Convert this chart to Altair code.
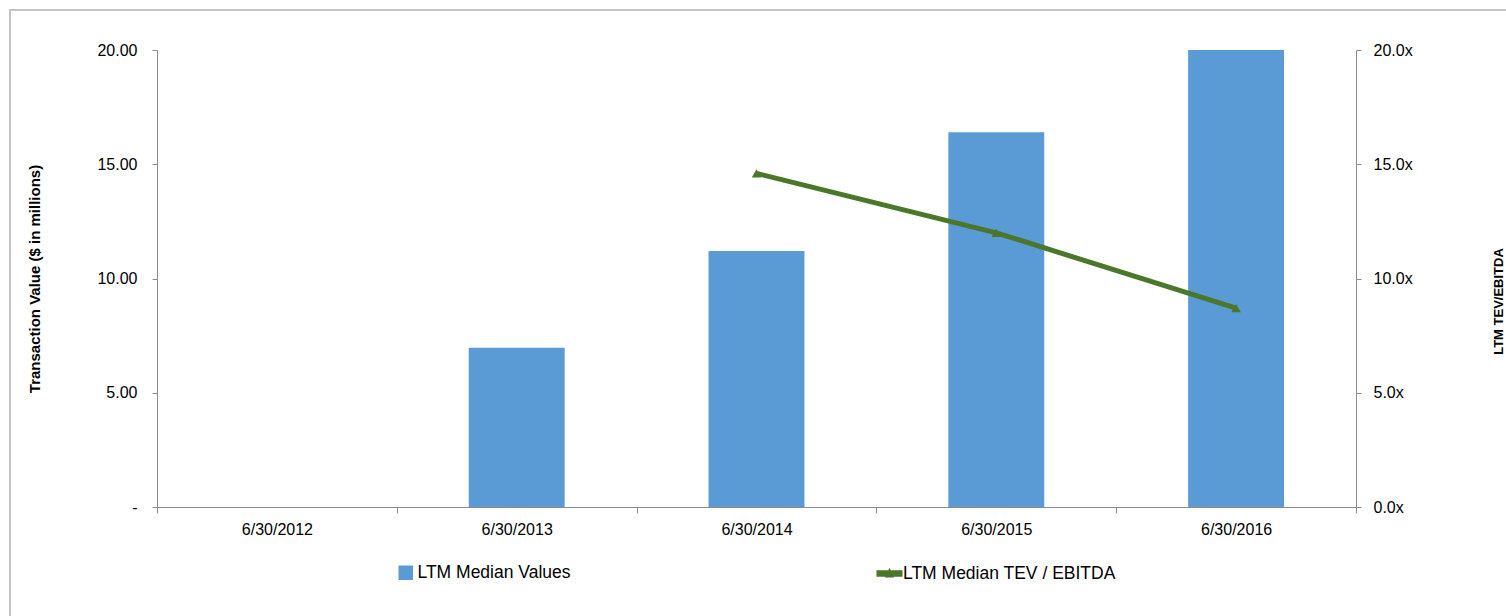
import altair as alt
import pandas as pd

dates = ["6/30/2012", "6/30/2013", "6/30/2014", "6/30/2015", "6/30/2016"]
median_values = [None, 6.97, 11.2, 16.4, 20.0]
tev_ebitda = [None, None, 14.6, 12.0, 8.7]
bar_series = "LTM Median Values"
line_series = "LTM Median TEV / EBITDA"

df = pd.DataFrame({
    "date": dates,
    "value": median_values,
    "multiple": tev_ebitda,
    "s1": bar_series,
    "s2": line_series,
})

FONT = "Liberation Sans"
AXIS_GRAY = "#8c8c8c"
BLUE = "#5B9BD5"
GREEN = "#4B772B"

x_enc = alt.X(
    "date:N", sort=dates, title=None,
    scale=alt.Scale(paddingInner=0, paddingOuter=0),
    axis=alt.Axis(tickBand="extent", labelAngle=0, domainColor=AXIS_GRAY, tickColor=AXIS_GRAY,
                  tickSize=6, labelPadding=8, labelFontSize=16, labelFont=FONT, labelColor="#000000",
                  grid=False),
)

bars = alt.Chart(df).mark_bar(width=alt.RelativeBandSize(0.4)).encode(
    x=x_enc,
    y=alt.Y("value:Q", scale=alt.Scale(domain=[0, 20], nice=False),
            axis=alt.Axis(values=[0, 5, 10, 15, 20], orient="left",
                          labelExpr="datum.value == 0 ? '-' : format(datum.value, '.2f')",
                          title="Transaction Value ($ in millions)",
                          titleFont=FONT, titleFontSize=15, titleFontWeight="bold", titleColor="#000000",
                          titleX=-123, titleBaseline="middle",
                          labelFont=FONT, labelFontSize=16, labelColor="#000000", labelPadding=15,
                          tickSize=5, domainColor=AXIS_GRAY, tickColor=AXIS_GRAY, grid=False)),
    fill=alt.Fill("s1:N", scale=alt.Scale(range=[BLUE]),
                  legend=alt.Legend(orient="none", legendX=240, legendY=514, title=None,
                                    symbolType="square", symbolSize=210, symbolStrokeWidth=0,
                                    labelFont=FONT, labelFontSize=17.5, labelColor="#000000",
                                    labelOffset=3, labelLimit=400)),
)

line = alt.Chart(df).mark_line(strokeWidth=5, point=alt.OverlayMarkDef(shape="triangle-up", size=90, filled=True, color=GREEN)).encode(
    x=x_enc,
    y=alt.Y("multiple:Q", scale=alt.Scale(domain=[0, 20], nice=False),
            axis=alt.Axis(values=[0, 5, 10, 15, 20], orient="right",
                          labelExpr="format(datum.value, '.1f') + 'x'",
                          title="LTM TEV/EBITDA",
                          titleFont=FONT, titleFontSize=13, titleFontWeight="bold", titleColor="#000000",
                          titleAngle=270, titleX=142, titleY=251, titleBaseline="middle", titleAlign="center",
                          labelFont=FONT, labelFontSize=16, labelColor="#000000", labelPadding=12,
                          tickSize=5, domainColor=AXIS_GRAY, tickColor=AXIS_GRAY, grid=False)),
    color=alt.Color("s2:N", scale=alt.Scale(range=[GREEN]),
                    legend=alt.Legend(orient="none", legendX=719, legendY=510, title=None,
                                      symbolType="M-1,-0.25L1,-0.25L1,0.25L-1,0.25Z M-0.35,0.3L0,-0.45L0.35,0.3Z",
                                      symbolSize=680, symbolFillColor=GREEN, symbolStrokeColor=GREEN,
                                      symbolStrokeWidth=0,
                                      labelFont=FONT, labelFontSize=17.5, labelColor="#000000",
                                      labelOffset=0, labelLimit=400)),
)

frame = alt.Chart(pd.DataFrame({"k": [0]})).mark_rect(fill="transparent", stroke="#c4c4c4", strokeWidth=2).encode(
    x=alt.value(-147), x2=alt.value(1400), y=alt.value(-40), y2=alt.value(640)
)

chart = alt.layer(frame, bars, line).resolve_scale(y="independent").properties(
    width=1199, height=457,
    background="#ffffff",
    autosize=alt.AutoSizeParams(type="none"),
    padding={"left": 157, "top": 50, "right": 150, "bottom": 109},
).configure_view(strokeWidth=0, stroke="transparent")

chart.save("out.html", embed_options={"renderer": "svg", "actions": False})
